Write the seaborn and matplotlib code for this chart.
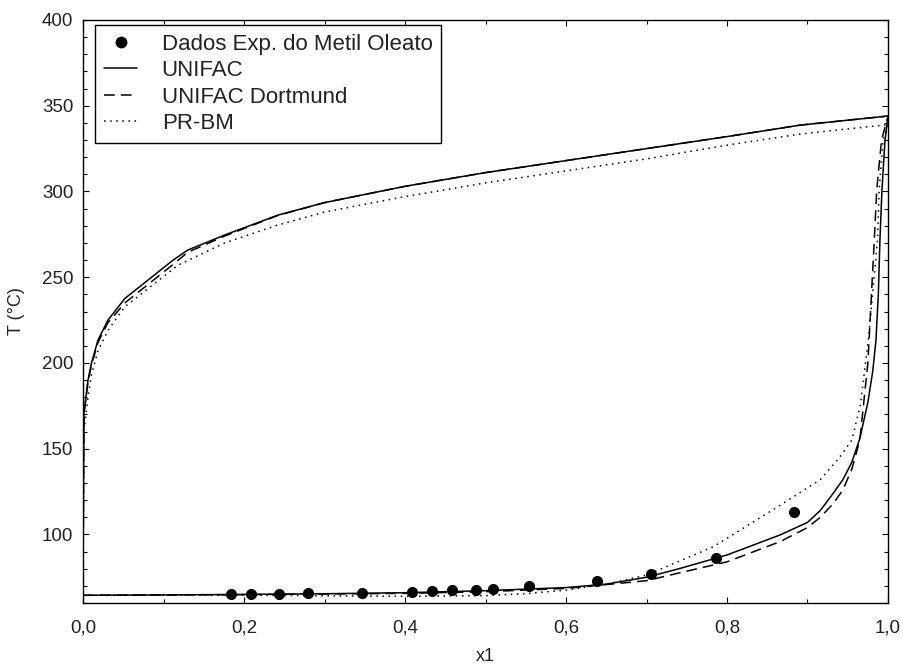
import numpy as np
import pandas as pd
import matplotlib
matplotlib.use("Agg")
import matplotlib.pyplot as plt
from matplotlib.ticker import MultipleLocator, FuncFormatter
from matplotlib.lines import Line2D
import seaborn as sns

# Experimental bubble points for methyl oleate system
exp_x = [0.184, 0.209, 0.243, 0.280, 0.347, 0.409, 0.433, 0.459, 0.488, 0.509, 0.554, 0.638, 0.705, 0.786, 0.883]
exp_T = [65.1, 65.2, 65.4, 65.6, 65.9, 66.6, 66.9, 67.3, 67.8, 68.4, 70.0, 73.0, 76.7, 86.1, 113.1]

# UNIFAC: bubble curve and dew curve
unifac_bub_x = [0.0, 0.1, 0.2, 0.3, 0.4, 0.5, 0.6, 0.65, 0.7, 0.742, 0.8, 0.866, 0.9, 0.916, 0.932, 0.944,
                0.955, 0.965, 0.975, 0.981, 0.985, 0.988, 0.990, 0.9925, 0.9963, 1.0]
unifac_bub_T = [64.5, 64.7, 65.0, 65.4, 66.0, 67.2, 69.0, 71.0, 75.0, 80.2, 88.0, 99.7, 107.0, 114.0, 124.0, 132.0,
                142.0, 156.0, 177.0, 195.0, 213.0, 240.0, 272.0, 301.0, 330.0, 344.0]
unifac_dew_x = [0.0, 0.0008, 0.0012, 0.0062, 0.0104, 0.0186, 0.031, 0.052, 0.112, 0.130, 0.176, 0.242,
                0.3, 0.4, 0.5, 0.6, 0.7, 0.8, 0.891, 1.0]
unifac_dew_T = [64.5, 150.0, 170.7, 190.0, 199.7, 213.3, 225.0, 237.6, 260.0, 265.8, 274.6, 286.2,
                293.5, 303.0, 311.0, 318.0, 325.0, 332.0, 338.7, 344.0]

# UNIFAC Dortmund
dortmund_bub_x = [0.0, 0.2, 0.4, 0.5, 0.6, 0.7, 0.742, 0.8, 0.866, 0.9, 0.916, 0.932, 0.944, 0.955, 0.965,
                  0.975, 0.983, 0.986, 0.992, 1.0]
dortmund_bub_T = [64.5, 64.9, 65.6, 66.6, 68.5, 73.0, 77.7, 84.0, 95.8, 104.0, 110.0, 118.0, 126.0, 138.0, 155.0,
                  200.0, 272.0, 301.0, 330.0, 344.0]
dortmund_dew_x = [0.0, 0.0008, 0.0012, 0.0062, 0.0104, 0.0186, 0.031, 0.052, 0.112, 0.130, 0.176, 0.242,
                  0.3, 0.4, 0.5, 0.6, 0.7, 0.8, 0.891, 1.0]
dortmund_dew_T = [64.5, 150.0, 170.0, 189.0, 198.5, 212.0, 223.5, 235.0, 257.5, 264.5, 274.0, 286.0,
                  293.5, 303.0, 311.0, 318.0, 325.0, 332.0, 338.7, 344.0]

# PR-BM
prbm_bub_x = [0.0, 0.2, 0.3, 0.4, 0.5, 0.55, 0.6, 0.65, 0.7, 0.783, 0.866, 0.916, 0.94, 0.955, 0.9655,
              0.9755, 0.987, 0.989, 0.994, 1.0]
prbm_bub_T = [64.5, 64.6, 64.2, 63.9, 64.3, 65.5, 67.5, 71.0, 76.3, 92.8, 117.0, 132.0, 145.0, 155.0, 175.0,
              213.0, 272.0, 301.0, 330.0, 339.0]
prbm_dew_x = [0.0, 0.0008, 0.0012, 0.0062, 0.0104, 0.0186, 0.031, 0.052, 0.118, 0.176, 0.242,
              0.3, 0.4, 0.5, 0.6, 0.7, 0.8, 0.891, 1.0]
prbm_dew_T = [64.5, 140.0, 160.0, 180.0, 193.0, 207.0, 219.0, 232.8, 257.0, 270.0, 280.4,
              288.0, 297.0, 305.0, 312.0, 319.0, 327.0, 333.5, 339.0]

sns.set_style("ticks")
plt.rcParams["font.family"] = ["Liberation Sans", "DejaVu Sans"]

fig = plt.figure(figsize=(9.04, 6.71), dpi=100)
ax = fig.add_axes([83 / 904, 1 - 603 / 671, (888 - 83) / 904, (603 - 20) / 671])

lw = 1.1
for xs, ts in [(unifac_bub_x, unifac_bub_T), (unifac_dew_x, unifac_dew_T)]:
    sns.lineplot(x=xs, y=ts, sort=False, estimator=None, color="black", lw=lw, ax=ax)
for xs, ts in [(dortmund_bub_x, dortmund_bub_T), (dortmund_dew_x, dortmund_dew_T)]:
    sns.lineplot(x=xs, y=ts, sort=False, estimator=None, color="black", lw=lw,
                 ax=ax).lines[-1].set_dashes([7, 4])
for xs, ts in [(prbm_bub_x, prbm_bub_T), (prbm_dew_x, prbm_dew_T)]:
    sns.lineplot(x=xs, y=ts, sort=False, estimator=None, color="black", lw=lw,
                 ax=ax).lines[-1].set_dashes([1, 3])

sns.scatterplot(x=exp_x, y=exp_T, color="black", s=64, edgecolor="black", linewidth=0, ax=ax, zorder=5)

ax.set_xlim(0, 1)
ax.set_ylim(60, 400)
ax.xaxis.set_major_locator(MultipleLocator(0.2))
ax.xaxis.set_minor_locator(MultipleLocator(0.1))
ax.yaxis.set_major_locator(MultipleLocator(50))
ax.yaxis.set_minor_locator(MultipleLocator(10))
ax.xaxis.set_major_formatter(FuncFormatter(lambda v, p: f"{v:.1f}".replace(".", ",")))
ax.yaxis.set_major_formatter(FuncFormatter(lambda v, p: f"{v:.0f}"))
ax.tick_params(which="both", direction="in", top=True, right=True, color="black", width=0.8)
ax.tick_params(which="major", length=4, labelsize=13.5, labelcolor="#222222")
ax.tick_params(axis="y", which="major", pad=7)
ax.tick_params(axis="x", which="major", pad=12)
ax.tick_params(which="minor", length=3)
for s in ax.spines.values():
    s.set_color("black")
    s.set_linewidth(1.0)

ax.set_xlabel("x1", fontsize=13, color="#222222", labelpad=8)
ax.set_ylabel("T (°C)", fontsize=13, color="#222222", labelpad=12)

handles = [
    Line2D([], [], ls="none", marker="o", color="black", markersize=7.5),
    Line2D([], [], color="black", lw=lw),
    Line2D([], [], color="black", lw=lw, dashes=[7, 4]),
    Line2D([], [], color="black", lw=lw, dashes=[1, 3]),
]
labels = ["Dados Exp. do Metil Oleato", "UNIFAC", "UNIFAC Dortmund", "PR-BM"]
leg = ax.legend(handles, labels, loc="upper left", bbox_to_anchor=(0.0149, 0.9914), fontsize=16,
                frameon=True, fancybox=False, framealpha=1, edgecolor="black",
                handlelength=1.5, handletextpad=1.1, borderpad=0.4, labelspacing=0.24,
                borderaxespad=0)
leg.get_frame().set_linewidth(1.0)
for t in leg.get_texts():
    t.set_color("#222222")

fig.savefig("out.png", dpi=100)
